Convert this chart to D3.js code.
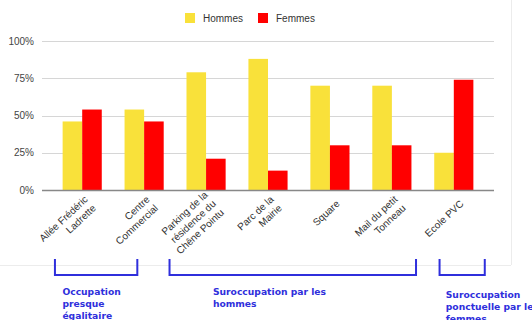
<!DOCTYPE html>
<html><head><meta charset="utf-8">
<script src="https://cdn.jsdelivr.net/npm/d3@7"></script>
<style>body{margin:0;background:#fff;}svg{display:block;}</style>
</head><body><svg id="c" width="532" height="320"></svg>
<script>
const categories = ["Allée Frédéric\nLadrette","Centre\nCommercial","Parking de la\nrésidence du\nChêne Pointu","Parc de la\nMairie","Square","Mail du petit\nTonneau","Ecole PVC"];
const series = ["Hommes","Femmes"];
const hommes = [46,54,79,88,70,70,25];
const femmes = [54,46,21,13,30,30,74];
const yTicks = [0,25,50,75,100];
// annotation groups: bracket span in category-index units (centre = index)
const groupFrom = [-0.44, 1.41, 5.77];
const groupTo = [0.89, 5.39, 6.5];
const groupTextAt = [-0.32, 2.11, 5.87];
const groupTextY = [295, 295, 298];
const groupLines = [["Occupation","presque","égalitaire"],["Suroccupation par les","hommes"],["Suroccupation","ponctuelle par les","femmes"]];
const colors = ["#f9e13a","#ff0000"];
const blue = "#2f2fdc";

const svg = d3.select("#c");
// card
svg.append("line").attr("x1",0).attr("x2",511).attr("y1",265.5).attr("y2",265.5).attr("stroke","#ececec");
svg.append("line").attr("x1",511.5).attr("x2",511.5).attr("y1",0).attr("y2",265).attr("stroke","#ececec");

const x = d3.scaleBand().domain(d3.range(categories.length)).range([42,494]).paddingInner(0.368).paddingOuter(0.333);
const xs = d3.scaleBand().domain(series).range([0,x.bandwidth()]);
const y = d3.scaleLinear().domain([0,100]).range([190,41]);
const cpos = d3.scaleLinear().domain([0,1]).range([x(0)+x.bandwidth()/2, x(1)+x.bandwidth()/2]);

// grid
svg.append("g").selectAll("line").data(yTicks.filter(d=>d>0)).join("line")
  .attr("x1",42).attr("x2",494).attr("y1",d=>Math.round(y(d))+0.5).attr("y2",d=>Math.round(y(d))+0.5)
  .attr("stroke","#d6d6d6");
const yAxis = svg.append("g").attr("transform","translate(34,0)")
  .call(d3.axisLeft(y).tickValues(yTicks).tickFormat(d=>d+"%").tickSize(0));
yAxis.select(".domain").remove();
yAxis.selectAll("text").attr("font-family","Liberation Sans, Arial, sans-serif").attr("font-size",10).attr("fill","#444").attr("x",0);

// bars
const vals = [hommes,femmes];
series.forEach((s,si)=>{
  svg.append("g").selectAll("rect").data(vals[si]).join("rect")
    .attr("x",(d,i)=>x(i)+xs(s)).attr("width",xs.bandwidth())
    .attr("y",d=>y(d)).attr("height",d=>y(0)-y(d)).attr("fill",colors[si]);
});
// baseline
svg.append("line").attr("x1",42).attr("x2",494).attr("y1",190.5).attr("y2",190.5).attr("stroke","#888").attr("stroke-width",1.3);

// x labels
const lab = svg.append("g").attr("font-family","Liberation Sans, Arial, sans-serif").attr("font-size",10).attr("fill","#333");
categories.forEach((c,i)=>{
  const lines = c.split("\n");
  const cx = x(i)+x.bandwidth()/2 + 8, cy = 202;
  const t = lab.append("text").attr("transform",`translate(${cx},${cy}) rotate(-43)`).attr("text-anchor","end");
  lines.forEach((l,j)=>{
    t.append("tspan").attr("x",0).attr("y",(j-(lines.length-1)/2)*12).attr("dy","0.35em").text(l);
  });
});

// legend
const lg = svg.append("g").attr("font-family","Liberation Sans, Arial, sans-serif").attr("font-size",10).attr("fill","#333");
const lx = [185,258];
series.forEach((s,si)=>{
  lg.append("rect").attr("x",lx[si]).attr("y",13).attr("width",10).attr("height",10).attr("fill",colors[si]);
  lg.append("text").attr("x",lx[si]+18).attr("y",18).attr("dy","0.35em").text(s);
});

// brackets
groupFrom.forEach((f,gi)=>{
  const x0 = cpos(f), x1 = cpos(groupTo[gi]);
  svg.append("path").attr("d",`M${x0},259V275H${x1}V259`).attr("fill","none").attr("stroke",blue).attr("stroke-width",2);
  const t = svg.append("text").attr("font-family","DejaVu Sans, sans-serif").attr("font-weight","bold").attr("font-size",9.2).attr("fill",blue);
  groupLines[gi].forEach((l,j)=>t.append("tspan").attr("x",cpos(groupTextAt[gi])).attr("y",groupTextY[gi]+j*11.8).text(l));
});
</script></body></html>
